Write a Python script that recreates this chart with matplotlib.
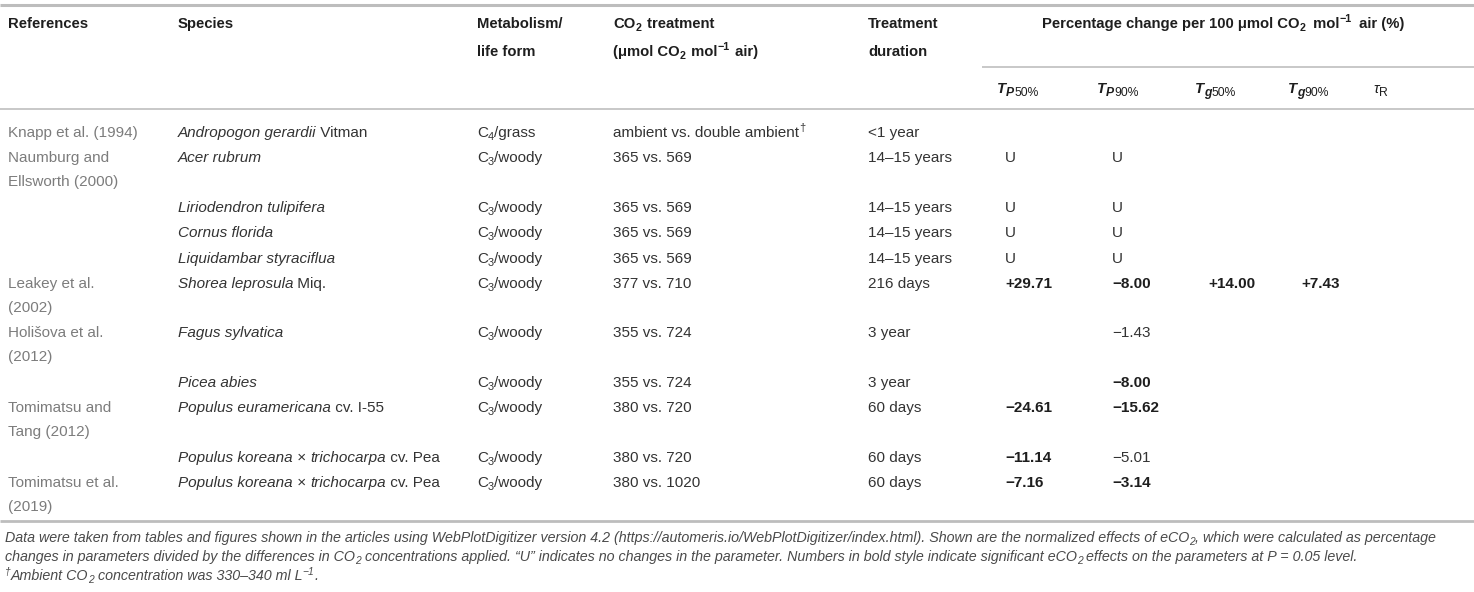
import matplotlib
matplotlib.use("Agg")
import matplotlib.pyplot as plt
from matplotlib import font_manager

# table content
references = [
    "Knapp et al. (1994)",
    "Naumburg and\nEllsworth (2000)",
    "",
    "",
    "",
    "Leakey et al.\n(2002)",
    "Holišova et al.\n(2012)",
    "",
    "Tomimatsu and\nTang (2012)",
    "",
    "Tomimatsu et al.\n(2019)",
]
species = [
    "*Andropogon gerardii* Vitman",
    "*Acer rubrum*",
    "*Liriodendron tulipifera*",
    "*Cornus florida*",
    "*Liquidambar styraciflua*",
    "*Shorea leprosula* Miq.",
    "*Fagus sylvatica*",
    "*Picea abies*",
    "*Populus euramericana* cv. I-55",
    "*Populus koreana* × *trichocarpa* cv. Pea",
    "*Populus koreana* × *trichocarpa* cv. Pea",
]
metabolism = ["C_{4}/grass"] + ["C_{3}/woody"] * 10
co2_treatment = [
    "ambient vs. double ambient^{†}",
    "365 vs. 569", "365 vs. 569", "365 vs. 569", "365 vs. 569",
    "377 vs. 710",
    "355 vs. 724", "355 vs. 724",
    "380 vs. 720", "380 vs. 720",
    "380 vs. 1020",
]
duration = [
    "<1 year",
    "14–15 years", "14–15 years", "14–15 years", "14–15 years",
    "216 days",
    "3 year", "3 year",
    "60 days", "60 days", "60 days",
]

# percentage change per 100 umol CO2 (None = not reported, "U" = unchanged)
tp50 = [None, "U", "U", "U", "U", 29.71, None, None, -24.61, -11.14, -7.16]
tp90 = [None, "U", "U", "U", "U", -8.00, -1.43, -8.00, -15.62, -5.01, -3.14]
tg50 = [None, None, None, None, None, 14.00, None, None, None, None, None]
tg90 = [None, None, None, None, None, 7.43, None, None, None, None, None]
tau_r = [None] * 11
# significant at P = 0.05 (bold)
tp50_sig = [False, False, False, False, False, True, False, False, True, True, True]
tp90_sig = [False, False, False, False, False, True, False, True, True, False, True]
tg50_sig = [False] * 5 + [True] + [False] * 5
tg90_sig = [False] * 5 + [True] + [False] * 5
tau_sig = [False] * 11

headers = ["References", "Species", "Metabolism/\nlife form",
           "CO_{2} treatment\n(μmol CO_{2} mol^{−1} air)", "Treatment\nduration"]
group_header = "Percentage change per 100 μmol CO_{2} mol^{−1} air (%)"
sub_headers = ["#*T*_{*P*}#_{50%}", "#*T*_{*P*}#_{90%}", "#*T*_{*g*}#_{50%}",
               "#*T*_{*g*}#_{90%}", "*τ*_{R}"]

footnotes = [
    "Data were taken from tables and figures shown in the articles using WebPlotDigitizer version 4.2 "
    "(https://automeris.io/WebPlotDigitizer/index.html). Shown are the normalized effects of eCO_{2}, "
    "which were calculated as percentage",
    "changes in parameters divided by the differences in CO_{2} concentrations applied. “U” indicates no "
    "changes in the parameter. Numbers in bold style indicate significant eCO_{2} effects on the "
    "parameters at P = 0.05 level.",
    "^{†}Ambient CO_{2} concentration was 330–340 ml L^{−1}.",
]

# layout (pixels)
W, H = 1474, 592
col_x = [8, 178, 477, 613, 868]
sub_x = [997, 1097, 1195, 1288, 1373]
val_x = [1005, 1112, 1208, 1301, 1380]
FS_HEAD = 10.7
FS = 11.0
FAMILY = "Liberation Sans"
names = {f.name for f in font_manager.fontManager.ttflist}
FOOT_FAMILY = "Liberation Sans Narrow" if "Liberation Sans Narrow" in names else FAMILY

fig = plt.figure(figsize=(W / 100, H / 100), dpi=100)
ax = fig.add_axes([0, 0, 1, 1])
ax.set_xlim(0, W)
ax.set_ylim(H, 0)
ax.axis("off")
renderer = fig.canvas.get_renderer()


def parse(s, bold=False, italic=False):
    """split simple markup: *italic*, #bold#, _{sub}, ^{sup}"""
    runs, buf, level = [], "", 0
    i = 0
    while i < len(s):
        c = s[i]
        if c in "*#" or s[i:i + 2] in ("_{", "^{") or (c == "}" and level != 0):
            if buf:
                runs.append((buf, bold, italic, level))
                buf = ""
            if c == "*":
                italic = not italic
            elif c == "#":
                bold = not bold
            elif c == "}":
                level = 0
            else:
                level = -1 if c == "_" else 1
                i += 1
        else:
            buf += c
        i += 1
    if buf:
        runs.append((buf, bold, italic, level))
    return runs


_cache = {}


def advance(text, size, bold, italic, family):
    key = (size, bold, italic, family)
    kw = dict(fontsize=size, fontweight="bold" if bold else "normal",
              fontstyle="italic" if italic else "normal", family=family)
    if key not in _cache:
        t = ax.text(0, 0, "||", **kw)
        _cache[key] = t.get_window_extent(renderer).width
        t.remove()
    t = ax.text(0, 0, "|" + text + "|", **kw)
    w = t.get_window_extent(renderer).width - _cache[key]
    t.remove()
    return w


def rich(x, y, s, size=FS, color="#333333", bold=False, italic=False,
         ha="left", family=FAMILY, sub=0.72, gap=0.0, measure_only=False):
    runs = parse(s, bold, italic)
    px = size * 100 / 72
    items = []
    prev_lev = 0
    for text, b, it, lev in runs:
        sz = size * sub if lev else size
        # a little room after a sub/superscript
        pad = gap * px if (prev_lev != 0 and lev == 0) else 0
        items.append((text, b, it, lev, sz, pad, advance(text, sz, b, it, family)))
        prev_lev = lev
    total = sum(v[5] + v[6] for v in items)
    if measure_only:
        return total
    if ha == "center":
        x -= total / 2
    for text, b, it, lev, sz, pad, w in items:
        x += pad
        dy = {0: 0, -1: 0.2 * px, 1: -0.38 * px}[lev]
        ax.text(x, y + dy, text, fontsize=sz, family=family, color=color,
                fontweight="bold" if b else "normal",
                fontstyle="italic" if it else "normal", va="baseline", ha="left")
        x += w
    return total


def fmt(v):
    if v is None:
        return ""
    if isinstance(v, str):
        return v
    return f"{v:+.2f}".replace("-", "−")


# rules
line_c = "#c4c4c4"
ax.plot([0, W], [4.5, 4.5], color="#bdbdbd", lw=2.2, solid_capstyle="butt")
ax.plot([982, W], [67, 67], color=line_c, lw=1.3, solid_capstyle="butt")
ax.plot([0, W], [108.5, 108.5], color=line_c, lw=1.3, solid_capstyle="butt")
ax.plot([0, W], [521, 521], color="#bdbdbd", lw=2.0, solid_capstyle="butt")

# header
head_c = "#1e1e1e"
for x, h in zip(col_x, headers):
    for k, line in enumerate(h.split("\n")):
        rich(x, 28 + 28 * k, line, size=FS_HEAD, color=head_c, bold=True, gap=0.1)
rich(1223, 28, group_header, size=FS_HEAD, color=head_c, bold=True, ha="center", gap=0.25)
for x, h in zip(sub_x, sub_headers):
    rich(x, 93, h, size=FS_HEAD, color=head_c, sub=0.82)

# body
value_cols = [(tp50, tp50_sig), (tp90, tp90_sig), (tg50, tg50_sig),
              (tg90, tg90_sig), (tau_r, tau_sig)]
y = 137.0
for i in range(len(species)):
    nlines = max(1, references[i].count("\n") + 1)
    for k, line in enumerate(references[i].split("\n")):
        if line:
            rich(col_x[0], y + 24 * k, line, color="#7c7c7c")
    rich(col_x[1], y, species[i])
    rich(col_x[2], y, metabolism[i])
    rich(col_x[3], y, co2_treatment[i])
    rich(col_x[4], y, duration[i])
    for x, (vals, sig) in zip(val_x, value_cols):
        s = fmt(vals[i])
        if s:
            rich(x, y, s, bold=sig[i], color="#1e1e1e" if sig[i] else "#333333")
    y += 24 * nlines + 1.4

# footnotes, scaled to fit the table width
w10 = rich(5, 0, footnotes[0], size=10, italic=True, family=FOOT_FAMILY, measure_only=True)
foot_fs = 10 * 1436 / w10
for k, line in enumerate(footnotes):
    rich(5, 542 + 19 * k, line, size=foot_fs, color="#4a4a4a", italic=True, family=FOOT_FAMILY)

fig.savefig("out.png", dpi=100)
